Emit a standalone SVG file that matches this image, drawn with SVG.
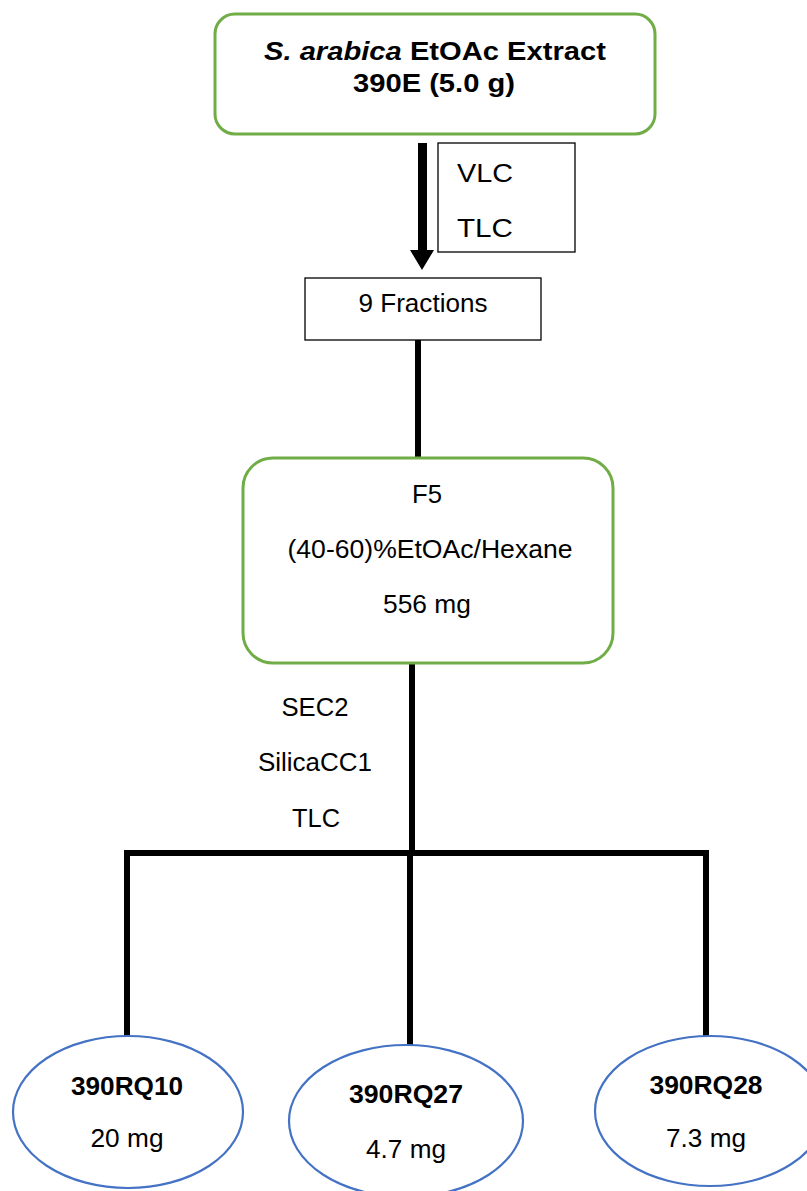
<svg xmlns="http://www.w3.org/2000/svg" width="807" height="1191" viewBox="0 0 807 1191">
<style>
text{font-family:"Liberation Sans",Arial,sans-serif;fill:#000;font-size:26px;}
.b{font-weight:bold;}
.c{text-anchor:middle;}
.g{fill:#fff;stroke:#70AD47;stroke-width:3;}
.r{fill:#fff;stroke:#000;stroke-width:1.3;}
.e{fill:#fff;stroke:#4472C4;stroke-width:2.2;}
.l{stroke:#000;stroke-width:6;fill:none;}
</style>
<rect width="807" height="1191" fill="#fff"/>
<g id="connectors">
<rect x="418" y="143" width="9" height="109" fill="#000"/>
<polygon points="410,250 434,250 422,270" fill="#000"/>
<line class="l" x1="418" y1="340" x2="418" y2="458"/>
<line class="l" x1="412" y1="662" x2="412" y2="853"/>
<line class="l" x1="124" y1="853" x2="709" y2="853"/>
<line class="l" x1="127" y1="850" x2="127" y2="1036"/>
<line class="l" x1="410" y1="850" x2="410" y2="1045"/>
<line class="l" x1="706" y1="850" x2="706" y2="1036"/>
</g>
<g id="extract">
<rect class="g" x="215" y="14" width="440" height="120" rx="20"/>
<text class="b c" x="435" y="60" textLength="342" lengthAdjust="spacingAndGlyphs"><tspan font-style="italic">S. arabica</tspan> EtOAc Extract</text>
<text class="b c" x="434" y="92" textLength="162" lengthAdjust="spacingAndGlyphs">390E (5.0 g)</text>
</g>
<g id="methods1">
<rect class="r" x="438" y="143" width="137" height="109"/>
<text x="457" y="182" textLength="56" lengthAdjust="spacingAndGlyphs">VLC</text>
<text x="457" y="237" textLength="56" lengthAdjust="spacingAndGlyphs">TLC</text>
</g>
<g id="fractions">
<rect class="r" x="305" y="278" width="236" height="62"/>
<text class="c" x="423" y="312" textLength="129" lengthAdjust="spacingAndGlyphs">9 Fractions</text>
</g>
<g id="f5">
<rect class="g" x="243" y="458" width="370" height="205" rx="30"/>
<text class="c" x="427" y="503" textLength="30" lengthAdjust="spacingAndGlyphs">F5</text>
<text class="c" x="430" y="558" textLength="285" lengthAdjust="spacingAndGlyphs">(40-60)%EtOAc/Hexane</text>
<text class="c" x="427" y="613" textLength="88" lengthAdjust="spacingAndGlyphs">556 mg</text>
</g>
<g id="methods2">
<text class="c" x="315" y="716" textLength="67" lengthAdjust="spacingAndGlyphs">SEC2</text>
<text class="c" x="315" y="771" textLength="114" lengthAdjust="spacingAndGlyphs">SilicaCC1</text>
<text class="c" x="316" y="827" textLength="48" lengthAdjust="spacingAndGlyphs">TLC</text>
</g>
<g id="rq10">
<ellipse class="e" cx="128" cy="1112" rx="115" ry="76"/>
<text class="b c" x="127" y="1095" textLength="112" lengthAdjust="spacingAndGlyphs">390RQ10</text>
<text class="c" x="127" y="1147" textLength="73" lengthAdjust="spacingAndGlyphs">20 mg</text>
</g>
<g id="rq27">
<ellipse class="e" cx="406" cy="1121" rx="117" ry="76"/>
<text class="b c" x="406" y="1103" textLength="114" lengthAdjust="spacingAndGlyphs">390RQ27</text>
<text class="c" x="406" y="1158" textLength="80" lengthAdjust="spacingAndGlyphs">4.7 mg</text>
</g>
<g id="rq28">
<ellipse class="e" cx="710" cy="1111" rx="115" ry="75"/>
<text class="b c" x="706" y="1094" textLength="113" lengthAdjust="spacingAndGlyphs">390RQ28</text>
<text class="c" x="706" y="1147" textLength="80" lengthAdjust="spacingAndGlyphs">7.3 mg</text>
</g>
</svg>
